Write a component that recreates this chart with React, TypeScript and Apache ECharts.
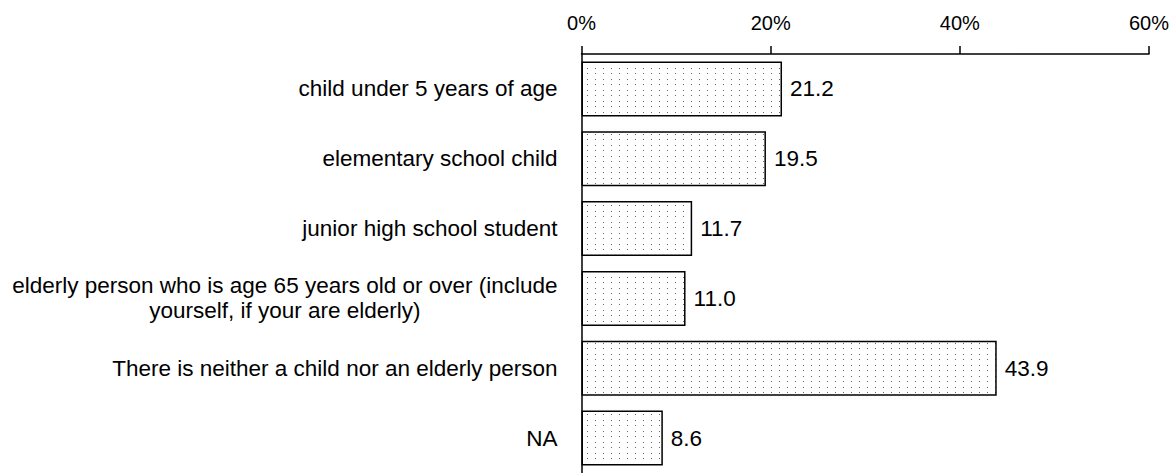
import React, { useEffect, useRef } from "react";
import * as echarts from "echarts";

const categories: string[] = [
  "child under 5 years of age",
  "elementary school child",
  "junior high school student",
  "elderly person who is age 65 years old or over (include\nyourself, if your are elderly)",
  "There is neither a child nor an elderly person",
  "NA",
];
const values: number[] = [21.2, 19.5, 11.7, 11.0, 43.9, 8.6];
const axisMin = 0;
const axisMax = 60;
const axisInterval = 20;

function makePattern(): HTMLCanvasElement {
  const c = document.createElement("canvas");
  c.width = 8;
  c.height = 11;
  const ctx = c.getContext("2d")!;
  ctx.fillStyle = "#ffffff";
  ctx.fillRect(0, 0, 8, 11);
  ctx.fillStyle = "#6a6a6a";
  ctx.fillRect(3, 2, 1, 1);
  ctx.fillRect(3, 7, 1, 1);
  return c;
}

export default function App() {
  const ref = useRef<HTMLDivElement>(null);
  useEffect(() => {
    if (!ref.current) return;
    const chart = echarts.init(ref.current, null, { renderer: "svg" });
    const font = "'Liberation Sans', Arial, sans-serif";
    chart.setOption({
      animation: false,
      backgroundColor: "#ffffff",
      grid: { left: 581.5, right: 27, top: 54, bottom: -3, containLabel: false },
      xAxis: {
        type: "value",
        position: "top",
        min: axisMin,
        max: axisMax,
        interval: axisInterval,
        axisLine: { show: true, lineStyle: { color: "#000", width: 1.5 } },
        axisTick: { show: true, length: 8, lineStyle: { color: "#000", width: 1.5 } },
        splitLine: { show: false },
        axisLabel: {
          formatter: "{value}%",
          color: "#000",
          fontSize: 20,
          fontFamily: font,
          margin: 21,
        },
      },
      yAxis: {
        type: "category",
        data: categories,
        inverse: true,
        axisLine: { show: true, lineStyle: { color: "#000", width: 1.5 } },
        axisTick: { show: false },
        axisLabel: {
          color: "#000",
          fontSize: 22.5,
          fontFamily: font,
          margin: 24,
          formatter: (v: string) =>
            v
              .split("\n")
              .map((l) => "{c|" + l + "}")
              .join("\n"),
          rich: {
            c: {
              align: "center",
              fontSize: 22.5,
              fontFamily: font,
              color: "#000",
              lineHeight: 25,
            },
          },
        },
      },
      series: [
        {
          type: "bar",
          data: values,
          barWidth: 55,
          itemStyle: {
            color: { image: makePattern(), repeat: "repeat" },
            borderColor: "#000",
            borderWidth: 1.5,
          },
          label: {
            show: true,
            position: "right",
            distance: 8,
            color: "#000",
            fontSize: 22.5,
            fontFamily: font,
            formatter: (p: any) => Number(p.value).toFixed(1),
          },
        },
      ],
    });
    return () => chart.dispose();
  }, []);
  return (
    <div
      ref={ref}
      style={{ position: "fixed", left: 0, top: 0, width: 1176, height: 473 }}
    />
  );
}
